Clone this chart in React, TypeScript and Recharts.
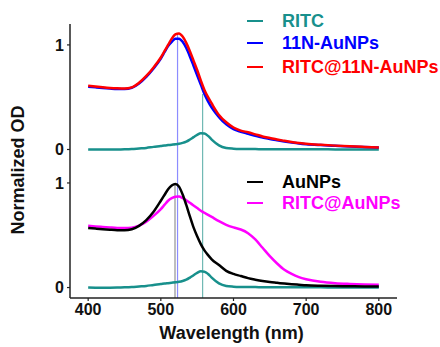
import React from 'react';
import { LineChart, Line, XAxis, YAxis, ReferenceLine } from 'recharts';

const wavelengths = [400, 410, 420, 430, 440, 450, 460, 470, 480, 490, 500, 505, 510, 515, 520, 525, 530, 535, 540, 545, 550, 555, 560, 565, 570, 580, 590, 600, 610, 620, 630, 640, 650, 660, 670, 680, 690, 700, 720, 740, 760, 780, 800];

const ritc = [0.0, -0.001, -0.001, -0.001, 0.0, 0.002, 0.005, 0.01, 0.015, 0.025, 0.033, 0.038, 0.042, 0.046, 0.05, 0.055, 0.063, 0.075, 0.095, 0.118, 0.14, 0.155, 0.152, 0.13, 0.095, 0.04, 0.015, 0.008, 0.005, 0.004, 0.004, 0.003, 0.003, 0.003, 0.003, 0.002, 0.002, 0.002, 0.002, 0.001, 0.001, 0.001, 0.0];

const n11AuNPs = [0.6, 0.594, 0.588, 0.583, 0.579, 0.578, 0.59, 0.632, 0.695, 0.775, 0.87, 0.93, 0.99, 1.03, 1.06, 1.06, 1.03, 0.97, 0.89, 0.8, 0.71, 0.62, 0.53, 0.46, 0.4, 0.31, 0.24, 0.195, 0.17, 0.15, 0.13, 0.115, 0.1, 0.088, 0.077, 0.067, 0.058, 0.051, 0.042, 0.035, 0.028, 0.023, 0.018];

const ritc11NAuNPs = [0.61, 0.602, 0.595, 0.589, 0.585, 0.583, 0.594, 0.638, 0.703, 0.785, 0.88, 0.94, 1.0, 1.06, 1.1, 1.11, 1.08, 1.02, 0.94, 0.85, 0.76, 0.66, 0.57, 0.5, 0.44, 0.33, 0.26, 0.21, 0.18, 0.165, 0.145, 0.125, 0.11, 0.095, 0.083, 0.072, 0.062, 0.055, 0.045, 0.037, 0.03, 0.025, 0.02];

const auNPs = [0.57, 0.564, 0.558, 0.553, 0.549, 0.548, 0.558, 0.59, 0.645, 0.725, 0.83, 0.885, 0.94, 0.975, 0.99, 0.965, 0.89, 0.79, 0.68, 0.575, 0.49, 0.415, 0.355, 0.31, 0.27, 0.215, 0.16, 0.13, 0.11, 0.09, 0.075, 0.062, 0.052, 0.045, 0.038, 0.032, 0.027, 0.022, 0.017, 0.014, 0.012, 0.01, 0.01];

const ritcAuNPs = [0.59, 0.584, 0.579, 0.574, 0.57, 0.569, 0.573, 0.592, 0.63, 0.685, 0.75, 0.79, 0.83, 0.855, 0.868, 0.87, 0.855, 0.835, 0.81, 0.785, 0.76, 0.735, 0.715, 0.695, 0.675, 0.635, 0.6, 0.575, 0.555, 0.52, 0.46, 0.38, 0.3, 0.23, 0.17, 0.13, 0.1, 0.08, 0.055, 0.042, 0.035, 0.03, 0.027];

const xTicks = [400, 500, 600, 700, 800];
const TOP_OFFSET = 1.32;
const yTicks = [0, 1, TOP_OFFSET, TOP_OFFSET + 1];
const yTickLabels = ['0', '1', '0', '1'];

// peak marker lines: wavelength, top value, bottom value
const peakBlue = { w: 523, top: TOP_OFFSET + 1.1, bottom: -0.1 };
const peakGreen = { w: 557.5, top: TOP_OFFSET + 0.53, bottom: -0.1 };
const peakGray = { w: 519.5, top: 0.99, bottom: -0.1 };

const topLegend = [
  { name: 'RITC', color: '#18908c' },
  { name: '11N-AuNPs', color: '#0000ff' },
  { name: 'RITC@11N-AuNPs', color: '#ff0000' },
];
const bottomLegend = [
  { name: 'AuNPs', color: '#000000' },
  { name: 'RITC@AuNPs', color: '#ff00ff' },
];

const data = wavelengths.map((w, i) => ({
  w,
  ritcTop: ritc[i] + TOP_OFFSET,
  n11: n11AuNPs[i] + TOP_OFFSET,
  r11: ritc11NAuNPs[i] + TOP_OFFSET,
  ritcBottom: ritc[i],
  au: auNPs[i],
  rau: ritcAuNPs[i],
}));

const FONT = '"Liberation Sans", Arial, Helvetica, sans-serif';
const tickStyle = { fontFamily: FONT, fontWeight: 700, fontSize: 16, fill: '#111' };

const YLabel = (props: any) => {
  const vb = props.viewBox || {};
  const cx = 18;
  const cy = vb.y + vb.height / 2 + 9;
  return (
    <text
      x={cx}
      y={cy}
      transform={`rotate(-90, ${cx}, ${cy})`}
      textAnchor="middle"
      dominantBaseline="central"
      style={{ fontFamily: FONT, fontWeight: 700, fontSize: 18, fill: '#111' }}
    >
      Normalized OD
    </text>
  );
};

const XLabel = (props: any) => {
  const vb = props.viewBox || {};
  const cx = vb.x + vb.width / 2 - 2;
  return (
    <text
      x={cx}
      y={339}
      textAnchor="middle"
      style={{ fontFamily: FONT, fontWeight: 700, fontSize: 18, fill: '#111' }}
    >
      Wavelength (nm)
    </text>
  );
};

const LegendGroup = ({ items, top }: { items: { name: string; color: string }[]; top: number[] }) => (
  <>
    {items.map((it, i) => (
      <div
        key={it.name}
        style={{
          position: 'absolute',
          left: 247,
          top: top[i] - 10,
          height: 20,
          lineHeight: '20px',
          display: 'flex',
          alignItems: 'center',
          whiteSpace: 'nowrap',
        }}
      >
        <span style={{ display: 'inline-block', width: 16, height: 2, background: it.color }} />
        <span
          style={{
            marginLeft: 19,
            fontFamily: FONT,
            fontWeight: 700,
            fontSize: 18,
            color: it.color,
          }}
        >
          {it.name}
        </span>
      </div>
    ))}
  </>
);

export default function App() {
  return (
    <div style={{ position: 'absolute', left: 0, top: 0, width: 440, height: 347, background: '#fff' }}>
      <LineChart width={440} height={347} data={data} margin={{ top: 24, right: 43, bottom: 0, left: 0 }}>
        <XAxis
          dataKey="w"
          type="number"
          domain={[375, 825]}
          ticks={xTicks}
          allowDataOverflow
          height={49}
          tick={tickStyle}
          tickSize={3}
          tickMargin={3}
          axisLine={{ stroke: '#222', strokeWidth: 1.5 }}
          tickLine={{ stroke: '#222', strokeWidth: 1.2 }}
          label={<XLabel />}
        />
        <YAxis
          type="number"
          domain={[-0.1, 2.52]}
          ticks={yTicks}
          allowDataOverflow
          width={70}
          tick={tickStyle}
          tickSize={3}
          tickMargin={3}
          tickFormatter={(v: number) => yTickLabels[yTicks.indexOf(v)] ?? ''}
          axisLine={{ stroke: '#222', strokeWidth: 1.5 }}
          tickLine={{ stroke: '#222', strokeWidth: 1.2 }}
          label={<YLabel />}
        />
        <ReferenceLine
          segment={[{ x: peakGray.w, y: peakGray.top }, { x: peakGray.w, y: peakGray.bottom }]}
          stroke="#a8a8a8"
          strokeWidth={1.5}
        />
        <ReferenceLine
          segment={[{ x: peakBlue.w, y: peakBlue.top }, { x: peakBlue.w, y: peakBlue.bottom }]}
          stroke="#8c8cff"
          strokeWidth={1.2}
        />
        <ReferenceLine
          segment={[{ x: peakGreen.w, y: peakGreen.top }, { x: peakGreen.w, y: peakGreen.bottom }]}
          stroke="#6fb8b3"
          strokeWidth={1.2}
        />
        <Line dataKey="ritcTop" type="monotone" stroke="#18908c" strokeWidth={2.5} dot={false} isAnimationActive={false} />
        <Line dataKey="n11" type="monotone" stroke="#0000ff" strokeWidth={2.5} dot={false} isAnimationActive={false} />
        <Line dataKey="r11" type="monotone" stroke="#ff0000" strokeWidth={2.5} dot={false} isAnimationActive={false} />
        <Line dataKey="ritcBottom" type="monotone" stroke="#18908c" strokeWidth={2.5} dot={false} isAnimationActive={false} />
        <Line dataKey="rau" type="monotone" stroke="#ff00ff" strokeWidth={2.5} dot={false} isAnimationActive={false} />
        <Line dataKey="au" type="monotone" stroke="#000000" strokeWidth={2.5} dot={false} isAnimationActive={false} />
      </LineChart>
      <LegendGroup items={topLegend} top={[20.7, 43.3, 66.7]} />
      <LegendGroup items={bottomLegend} top={[181.7, 203.3]} />
    </div>
  );
}
